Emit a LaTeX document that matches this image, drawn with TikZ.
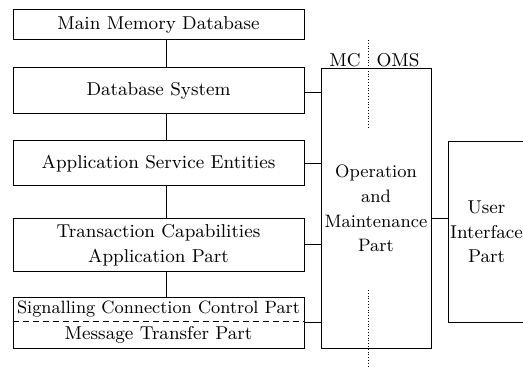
\documentclass[tikz,border=0pt]{standalone}
\usetikzlibrary{calc}

\begin{document}
\begin{tikzpicture}[x=0.5pt,y=-0.5pt,line width=0.5pt,
  box/.style={draw,minimum width=145.5pt,inner sep=0pt,align=center,font=\fontsize{9.3}{12.3}\selectfont},
  tag/.style={inner sep=0pt,font=\fontsize{9.3}{12.3}\selectfont}]
\useasboundingbox (0,0) rectangle (523,368);
\clip (0,0) rectangle (523,368);

\node[box,minimum height=15pt] (mmd) at (158.5,25) {Main Memory Database};
\node[box,minimum height=23pt] (dbs) at (158.5,91) {Database System};
\node[box,minimum height=22.5pt] (ase) at (158.5,163.5) {Application Service Entities};
\node[box,minimum height=26.5pt] (tcap) at (158.5,245) {Transaction Capabilities\\Application Part};
\node[box,minimum height=25.5pt] (low) at (158.5,322.5) {};
\node[tag,font=\fontsize{8.9}{11}\selectfont] (sccp) at (158.5,309.5) {Signalling Connection Control Part};
\node[tag] (mtp) at (158.5,335) {Message Transfer Part};
\draw[densely dashed,line width=0.4pt] ([yshift=0.75pt]low.west) -- ([yshift=0.75pt]low.east);

\node[box,minimum width=55pt,minimum height=139.5pt,font=\fontsize{9}{12.3}\selectfont] (oam) at (376,208.5) {Operation\\and\\Maintenance\\Part};
\node[box,minimum width=38.5pt,minimum height=90pt] (uip) at (486.5,232) {User\\Interface\\Part};

\node[tag] (mc) at (345,60) {MC};
\node[tag] (oms) at (398,60) {OMS};
\coordinate (dtop) at (368,40);
\coordinate (dbot) at (368,368);
\draw[densely dotted,line width=0.4pt] (dtop) -- (dtop |- 0,128);
\draw[densely dotted,line width=0.4pt] (dbot |- 0,290) -- (dbot);

\draw ([xshift=4pt]mmd.south) -- ([xshift=4pt]dbs.north);
\draw ([xshift=4pt]dbs.south) -- ([xshift=4pt]ase.north);
\draw ([xshift=4pt]ase.south) -- ([xshift=4pt]tcap.north);
\draw ([xshift=4pt]tcap.south) -- ([xshift=4pt]low.north);

\draw ([yshift=-1pt]dbs.east) -- ([yshift=-1pt]dbs.east -| oam.west);
\draw (ase.east) -- (ase.east -| oam.west);
\draw (tcap.east) -- (tcap.east -| oam.west);
\draw (low.east) -- (low.east -| oam.west);
\draw ([yshift=-5.25pt]oam.east) -- ([yshift=-5.25pt]oam.east -| uip.west);
\end{tikzpicture}
\end{document}
